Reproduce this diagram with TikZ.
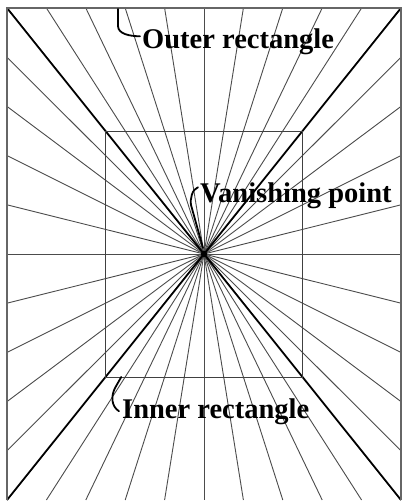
\documentclass[tikz,border=0pt]{standalone}
\usepackage{fontspec}
\setmainfont{Liberation Serif}
\usetikzlibrary{calc}
\begin{document}
\begin{tikzpicture}[x=1pt,y=-1pt,
  ray/.style={draw=black!70,line width=0.9pt},
  diag/.style={draw=black,line width=1.8pt},
  frame/.style={draw=black!60,line width=1.4pt},
  innerbox/.style={draw=black!75,line width=1pt},
  lbl/.style={font=\bfseries\fontsize{28.5}{30}\selectfont,inner sep=0pt,anchor=base west},
  leader/.style={draw=black,line width=1.8pt,line cap=round}]
\useasboundingbox (0,0) rectangle (403,501);
\fill[white] (0,0) rectangle (403,501);
\coordinate (otl) at (7,8);
\coordinate (otr) at (401,8);
\coordinate (obl) at (7,500);
\coordinate (obr) at (401,500);
\coordinate (vp) at (204,254);
\foreach \i in {1,...,9}{
  \coordinate (t\i) at ($(otl)!\i/10!(otr)$);
  \coordinate (b\i) at ($(obl)!\i/10!(obr)$);
  \coordinate (l\i) at ($(otl)!\i/10!(obl)$);
  \coordinate (r\i) at ($(otr)!\i/10!(obr)$);
  \draw[ray] (vp) -- (t\i);
  \draw[ray] (vp) -- (b\i);
  \draw[ray] (vp) -- (l\i);
  \draw[ray] (vp) -- (r\i);
}
\draw[diag] (otl) -- (obr);
\draw[diag] (otr) -- (obl);
\coordinate (itl) at ($(vp)!0.5!(otl)$);
\coordinate (ibr) at ($(vp)!0.5!(obr)$);
\coordinate (ibl) at ($(vp)!0.5!(obl)$);
\draw[innerbox] (itl) rectangle (ibr);
\draw[frame] (obl) -- (otl) -- (otr) -- (obr);
\fill[black] (vp) circle (3.2pt);
\node[lbl] (outerlbl) at (142,48) {Outer rectangle};
\node[lbl] (vplbl) at (200,202) {Vanishing point};
\node[lbl] (innerlbl) at (122,418) {Inner rectangle};
\coordinate (outerhook) at (118,9);
\draw[leader] (outerhook) -- ++(0,17) .. controls +(0,8) and +(-10,0) .. ($(outerlbl.west)+(-2,-5)$);
\draw[leader] ($(vplbl.west)+(-2,-8)$) .. controls +(-6,2) and +(-1,-6) .. (191,205) -- ($(vp)+(-1,-6)$);
\coordinate (innerhook) at ($(ibl)!0.08!(ibr)$);
\draw[leader] (innerhook) -- (115,388) .. controls (111,396) and (111,406) .. ($(innerlbl.west)+(-3,0)$);
\end{tikzpicture}
\end{document}
